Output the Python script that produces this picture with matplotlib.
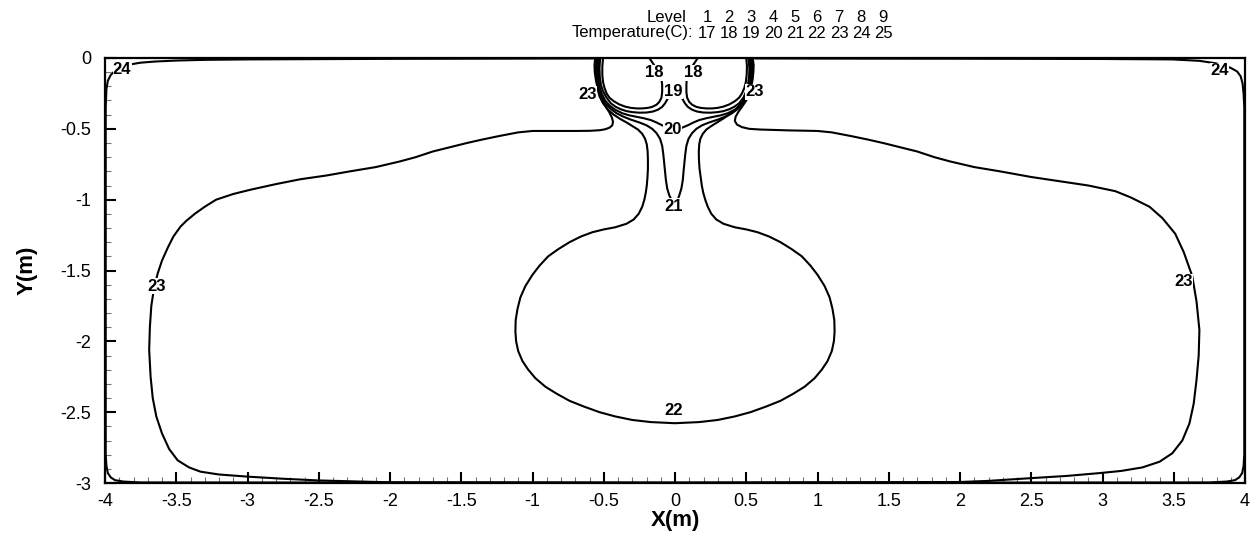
import matplotlib
matplotlib.use('Agg')
import matplotlib.pyplot as plt
from matplotlib.ticker import MultipleLocator

plt.rcParams['font.family'] = ['Liberation Sans', 'DejaVu Sans']

# legend table (level number -> temperature)
levels = [1, 2, 3, 4, 5, 6, 7, 8, 9]
temps = [17, 18, 19, 20, 21, 22, 23, 24, 25]

# contour lines, x (m) and y (m)
# 18 C, two cold lobes under the inlet
c18_left_x = [-0.18, -0.16, -0.14, -0.12, -0.105, -0.095, -0.09, -0.09, -0.095, -0.11, -0.13, -0.16, -0.19, -0.23, -0.27,
              -0.31, -0.35, -0.39, -0.43, -0.46, -0.48, -0.495, -0.505, -0.51, -0.51, -0.505]
c18_left_y = [0.0, -0.03, -0.06, -0.09, -0.12, -0.15, -0.19, -0.24, -0.28, -0.31, -0.33, -0.345, -0.352, -0.356, -0.356,
              -0.352, -0.343, -0.328, -0.305, -0.28, -0.25, -0.21, -0.17, -0.12, -0.06, 0.0]
c18_right_x = [0.16, 0.14, 0.12, 0.10, 0.09, 0.082, 0.08, 0.08, 0.085, 0.10, 0.12, 0.15, 0.18, 0.22, 0.26,
               0.30, 0.34, 0.38, 0.42, 0.45, 0.47, 0.487, 0.497, 0.503, 0.505, 0.50]
c18_right_y = [0.0, -0.03, -0.06, -0.09, -0.12, -0.15, -0.19, -0.24, -0.28, -0.31, -0.33, -0.345, -0.352, -0.356, -0.356,
               -0.352, -0.343, -0.328, -0.305, -0.28, -0.25, -0.21, -0.17, -0.12, -0.06, 0.0]

# 19 C
c19_x = [-0.525, -0.53, -0.528, -0.52, -0.505, -0.48, -0.45, -0.415, -0.38, -0.34, -0.30, -0.25, -0.20, -0.155, -0.12, -0.09,
         -0.07, -0.05, -0.035, -0.02, 0.0, 0.02, 0.035, 0.05, 0.07, 0.09, 0.12, 0.155, 0.20, 0.25, 0.30, 0.34, 0.38,
         0.415, 0.45, 0.48, 0.50, 0.512, 0.52, 0.522, 0.515]
c19_y = [0.0, -0.07, -0.13, -0.19, -0.235, -0.28, -0.32, -0.345, -0.362, -0.375, -0.382, -0.386, -0.385, -0.378, -0.365, -0.345,
         -0.32, -0.285, -0.25, -0.22, -0.205, -0.22, -0.25, -0.285, -0.32, -0.345, -0.365, -0.378, -0.385, -0.386, -0.382, -0.375, -0.362,
         -0.345, -0.32, -0.28, -0.235, -0.19, -0.13, -0.07, 0.0]

# 20 C
c20_x = [-0.535, -0.54, -0.538, -0.53, -0.515, -0.49, -0.46, -0.42, -0.37, -0.32, -0.27, -0.22, -0.17, -0.13, -0.09, -0.05, 0.0,
         0.05, 0.09, 0.13, 0.17, 0.22, 0.27, 0.32, 0.37, 0.42, 0.46, 0.49, 0.51, 0.523, 0.53, 0.532, 0.525]
c20_y = [0.0, -0.07, -0.14, -0.20, -0.25, -0.30, -0.335, -0.365, -0.39, -0.405, -0.415, -0.425, -0.438, -0.455, -0.475, -0.492, -0.50,
         -0.492, -0.475, -0.455, -0.438, -0.425, -0.415, -0.405, -0.39, -0.365, -0.335, -0.30, -0.25, -0.20, -0.14, -0.07, 0.0]

# 21 C, the narrow stem
c21_x = [-0.545, -0.55, -0.548, -0.54, -0.52, -0.49, -0.45, -0.41, -0.36, -0.31, -0.25, -0.20, -0.16, -0.13, -0.105, -0.09,
         -0.082, -0.076, -0.07, -0.064, -0.055, -0.04, -0.02, -0.005,
         0.015, 0.03, 0.045, 0.055, 0.06, 0.066, 0.072, 0.08, 0.095, 0.12, 0.15, 0.19, 0.24, 0.30, 0.35, 0.40, 0.44,
         0.48, 0.51, 0.53, 0.538, 0.54, 0.535]
c21_y = [0.0, -0.07, -0.14, -0.21, -0.27, -0.32, -0.36, -0.39, -0.415, -0.435, -0.455, -0.475, -0.50, -0.53, -0.57, -0.62,
         -0.68, -0.74, -0.80, -0.86, -0.92, -0.97, -1.01, -1.035,
         -1.01, -0.97, -0.92, -0.86, -0.80, -0.74, -0.68, -0.62, -0.57, -0.53, -0.50, -0.475, -0.455, -0.435, -0.415, -0.39, -0.36,
         -0.32, -0.27, -0.21, -0.14, -0.07, 0.0]

# 22 C, stem opening into the bulb
c22_x = [-0.55, -0.555, -0.553, -0.545, -0.53, -0.505, -0.47, -0.43, -0.385, -0.34, -0.30, -0.26, -0.23, -0.21, -0.198, -0.192,
         -0.19, -0.19, -0.193, -0.198, -0.205, -0.215, -0.23, -0.255, -0.29, -0.34, -0.42, -0.50, -0.58, -0.66, -0.74,
         -0.82, -0.89, -0.95, -1.00, -1.05, -1.085, -1.105, -1.118, -1.12, -1.115, -1.10, -1.07, -1.03, -0.98, -0.91,
         -0.83, -0.74, -0.64, -0.53, -0.42, -0.30, -0.17, 0.0,
         0.17, 0.30, 0.42, 0.53, 0.64, 0.74, 0.83, 0.91, 0.98, 1.03, 1.07, 1.10, 1.115, 1.12, 1.118, 1.105, 1.085, 1.05,
         1.00, 0.95, 0.89, 0.82, 0.74, 0.66, 0.58, 0.50, 0.42, 0.34, 0.29, 0.255, 0.23, 0.212, 0.198, 0.188, 0.18,
         0.172, 0.168, 0.167, 0.17, 0.178, 0.195, 0.22, 0.255, 0.295, 0.335, 0.38, 0.425, 0.465, 0.50, 0.525, 0.54,
         0.545, 0.535]
c22_y = [0.0, -0.07, -0.14, -0.21, -0.27, -0.32, -0.365, -0.40, -0.43, -0.455, -0.48, -0.505, -0.535, -0.57, -0.61, -0.66,
         -0.72, -0.78, -0.84, -0.90, -0.95, -1.0, -1.05, -1.10, -1.14, -1.17, -1.195, -1.21, -1.23, -1.26, -1.30,
         -1.35, -1.40, -1.465, -1.53, -1.61, -1.69, -1.77, -1.85, -1.93, -2.00, -2.07, -2.14, -2.20, -2.26, -2.32,
         -2.37, -2.42, -2.46, -2.50, -2.53, -2.555, -2.57, -2.578,
         -2.57, -2.555, -2.53, -2.50, -2.46, -2.42, -2.37, -2.32, -2.26, -2.20, -2.14, -2.07, -2.00, -1.93, -1.85, -1.77, -1.69, -1.61,
         -1.53, -1.465, -1.40, -1.35, -1.30, -1.26, -1.23, -1.21, -1.195, -1.17, -1.14, -1.10, -1.05, -1.0, -0.95, -0.90, -0.84,
         -0.78, -0.72, -0.66, -0.61, -0.57, -0.535, -0.505, -0.48, -0.455, -0.43, -0.40, -0.365, -0.32, -0.27, -0.21,
         -0.14, -0.07, 0.0]

# 23 C, large loop through the whole tank
c23_x = [-0.56, -0.565, -0.563, -0.556, -0.545, -0.53, -0.51, -0.485, -0.46, -0.443, -0.435, -0.44, -0.46, -0.49, -0.53,
         -0.60, -0.70, -0.80, -0.90, -1.0, -1.1, -1.23, -1.35, -1.46, -1.58, -1.70, -1.82, -1.93, -2.10, -2.28, -2.45,
         -2.63, -2.80, -2.98, -3.10, -3.22, -3.30, -3.37, -3.43, -3.47, -3.52, -3.56, -3.60, -3.63, -3.655, -3.675,
         -3.685, -3.69, -3.68, -3.665, -3.64, -3.60, -3.55, -3.49, -3.41, -3.33, -3.2, -3.0, -2.75, -2.5, -2.2, -2.0,
         0.0, 2.0, 2.2, 2.51, 2.75, 2.98, 3.13, 3.28, 3.40, 3.49, 3.56, 3.61, 3.64, 3.66, 3.675, 3.68, 3.66, 3.63,
         3.57, 3.51, 3.42, 3.33, 3.2, 3.09, 2.9, 2.70, 2.5, 2.28, 2.1, 1.93, 1.82, 1.70, 1.58, 1.46, 1.35, 1.23,
         1.1, 1.0, 0.9, 0.8, 0.7, 0.6, 0.52, 0.47, 0.435, 0.42, 0.425, 0.445, 0.47, 0.5, 0.52, 0.535, 0.545, 0.55,
         0.552, 0.545]
c23_y = [0.0, -0.05, -0.10, -0.15, -0.20, -0.25, -0.30, -0.345, -0.385, -0.42, -0.45, -0.475, -0.492, -0.503, -0.51,
         -0.514, -0.515, -0.515, -0.515, -0.515, -0.525, -0.55, -0.575, -0.60, -0.63, -0.66, -0.70, -0.73, -0.77, -0.80, -0.83,
         -0.856, -0.89, -0.93, -0.96, -1.0, -1.05, -1.10, -1.15, -1.19, -1.26, -1.34, -1.43, -1.52, -1.62, -1.75,
         -1.90, -2.06, -2.25, -2.40, -2.53, -2.65, -2.76, -2.84, -2.89, -2.92, -2.94, -2.955, -2.97, -2.982, -2.99, -2.995,
         -2.997, -2.993, -2.985, -2.965, -2.95, -2.93, -2.915, -2.89, -2.85, -2.79, -2.70, -2.58, -2.44, -2.27, -2.10, -1.92, -1.72, -1.54,
         -1.37, -1.24, -1.13, -1.05, -0.985, -0.94, -0.90, -0.87, -0.84, -0.80, -0.77, -0.73, -0.70, -0.66, -0.63, -0.60, -0.575, -0.55,
         -0.525, -0.515, -0.513, -0.511, -0.508, -0.505, -0.50, -0.488, -0.47, -0.445, -0.415, -0.38, -0.345, -0.30, -0.25, -0.20, -0.15, -0.10,
         -0.05, 0.0]

# 24 C, hugging the walls
c24_x = [-0.57, -1.0, -2.0, -3.0, -3.3, -3.5, -3.65, -3.75, -3.82, -3.88, -3.93, -3.96, -3.98, -3.99, -3.995, -3.995,
         -3.99, -3.98, -3.96, -3.93, -3.87, -3.75, 0.0, 3.75, 3.87, 3.93, 3.96, 3.98, 3.99, 3.995, 3.995, 3.99, 3.983,
         3.97, 3.945, 3.90, 3.85, 3.78, 3.68, 3.49, 3.0, 2.0, 1.0, 0.56]
c24_y = [-0.003, -0.004, -0.006, -0.01, -0.013, -0.018, -0.025, -0.033, -0.045, -0.065, -0.09, -0.12, -0.16, -0.22, -0.35, -2.80,
         -2.88, -2.93, -2.96, -2.98, -2.99, -2.996, -2.998, -2.996, -2.99, -2.98, -2.96, -2.93, -2.88, -2.80, -0.35, -0.25, -0.18,
         -0.13, -0.095, -0.07, -0.05, -0.035, -0.02, -0.01, -0.007, -0.005, -0.004, -0.003]

contours = [(c18_left_x, c18_left_y), (c18_right_x, c18_right_y), (c19_x, c19_y), (c20_x, c20_y),
            (c21_x, c21_y), (c22_x, c22_y), (c23_x, c23_y), (c24_x, c24_y)]

# contour labels
label_text = ['18', '18', '19', '20', '21', '22', '23', '23', '23', '23', '24', '24']
label_x = [-0.145, 0.125, -0.01, -0.02, -0.01, -0.01, -0.61, 0.56, -3.64, 3.57, -3.88, 3.82]
label_y = [-0.105, -0.105, -0.235, -0.505, -1.045, -2.49, -0.255, -0.24, -1.61, -1.58, -0.08, -0.09]

xticks = [-4, -3.5, -3, -2.5, -2, -1.5, -1, -0.5, 0, 0.5, 1, 1.5, 2, 2.5, 3, 3.5, 4]
xtick_labels = ['-4', '-3.5', '-3', '-2.5', '-2', '-1.5', '-1', '-0.5', '0', '0.5', '1', '1.5', '2', '2.5', '3', '3.5', '4']
yticks = [0, -0.5, -1, -1.5, -2, -2.5, -3]
ytick_labels = ['0', '-0.5', '-1', '-1.5', '-2', '-2.5', '-3']

fig = plt.figure(figsize=(12.6, 5.36), dpi=100)
ax = fig.add_axes([105 / 1260, 1 - 483 / 536, 1140 / 1260, 425 / 536])

for cx, cy in contours:
    ax.plot(cx, cy, color='black', lw=1.5, solid_joinstyle='round', solid_capstyle='round', clip_on=False)

for t, lx, ly in zip(label_text, label_x, label_y):
    ax.text(lx, ly, t, ha='center', va='center', fontsize=12, fontweight='bold',
            bbox=dict(facecolor='white', edgecolor='none', pad=0.1), zorder=5)

ax.set_xlim(-4, 4)
ax.set_ylim(-3, 0)
ax.set_xticks(xticks)
ax.set_xticklabels(xtick_labels)
ax.set_yticks(yticks)
ax.set_yticklabels(ytick_labels)
ax.xaxis.set_minor_locator(MultipleLocator(0.1))
ax.yaxis.set_minor_locator(MultipleLocator(0.1))
ax.tick_params(which='major', direction='in', length=8, width=1.5, labelsize=13)
ax.tick_params(axis='x', which='major', pad=7)
ax.tick_params(axis='y', which='major', pad=10)
ax.tick_params(which='minor', direction='in', length=4, width=0.8, color='0.45')
for s in ax.spines.values():
    s.set_linewidth(1.6)

ax.set_xlabel('X(m)', fontsize=16, fontweight='bold', labelpad=0)
ax.set_ylabel('Y(m)', fontsize=16, fontweight='bold', labelpad=16)

# level / temperature table above the plot
fig.text(687 / 1260, 1 - 17 / 536, 'Level', ha='right', va='center', fontsize=12)
fig.text(693 / 1260, 1 - 33 / 536, 'Temperature(C):', ha='right', va='center', fontsize=12)
for i, (lv, tp) in enumerate(zip(levels, temps)):
    xc = (707 + 22 * i) / 1260
    fig.text(xc, 1 - 17 / 536, str(lv), ha='center', va='center', fontsize=12)
    fig.text(xc, 1 - 33 / 536, str(tp), ha='center', va='center', fontsize=12)

fig.savefig('out.png', dpi=100)
